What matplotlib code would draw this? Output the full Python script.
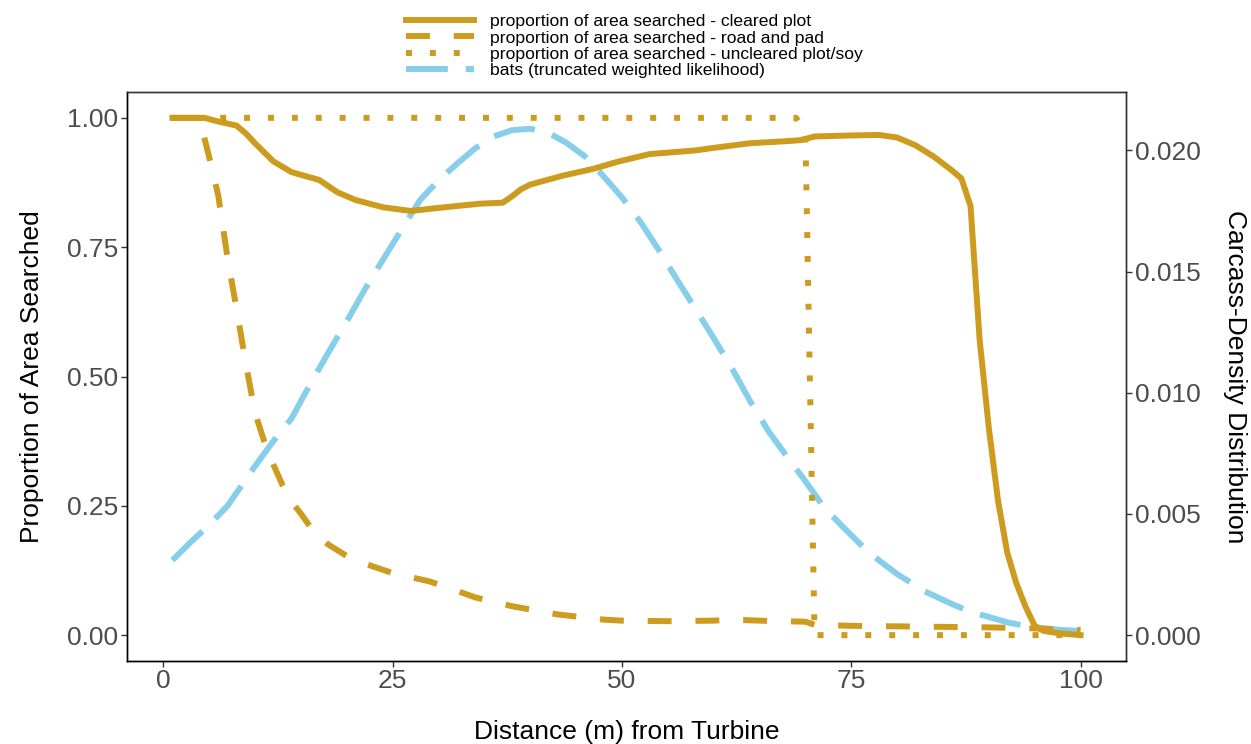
import matplotlib
matplotlib.use("Agg")
import matplotlib.pyplot as plt
from matplotlib.lines import Line2D

plt.rcParams['font.family'] = ['Liberation Sans', 'DejaVu Sans']

# ---------------- data ----------------
cleared_x = [1, 4.5, 6, 8, 9, 10, 12, 14, 15, 17, 19, 21, 24, 27, 30, 34.5, 37, 38, 39, 40,
             43.5, 47, 49.5, 53, 58, 60, 64, 68, 69.5, 71, 75, 78, 80, 82, 84, 86, 87, 88,
             89, 90, 91, 92, 93, 94, 95, 96, 98, 100]
cleared_y = [1.0, 1.0, 0.993, 0.985, 0.97, 0.951, 0.916, 0.895, 0.89, 0.88, 0.856, 0.841,
             0.827, 0.82, 0.826, 0.834, 0.836, 0.848, 0.862, 0.871, 0.888, 0.902, 0.915,
             0.93, 0.937, 0.942, 0.951, 0.955, 0.957, 0.964, 0.966, 0.967, 0.962, 0.947,
             0.925, 0.898, 0.883, 0.83, 0.57, 0.40, 0.26, 0.16, 0.10, 0.055, 0.018, 0.008,
             0.003, 0.0]

road_x = [1, 4, 4.5, 5, 6, 7, 8, 9, 10, 11, 12, 13, 14, 15, 16, 17, 18, 20, 22, 25, 29, 31,
          34, 38, 43, 48, 50, 55, 60, 62, 65, 70, 71, 75, 80, 85, 90, 95, 100]
road_y = [1.0, 1.0, 0.96, 0.925, 0.85, 0.73, 0.63, 0.525, 0.43, 0.375, 0.33, 0.29, 0.258,
          0.235, 0.21, 0.19, 0.175, 0.153, 0.138, 0.12, 0.104, 0.092, 0.073, 0.056, 0.04,
          0.03, 0.028, 0.027, 0.028, 0.03, 0.028, 0.026, 0.02, 0.018, 0.017, 0.016, 0.015,
          0.013, 0.01]

uncleared_x = [1, 69, 70, 71, 100]
uncleared_y = [1.0, 1.0, 0.97, 0.0, 0.0]

bats_x = [1, 3, 5, 7, 10, 12, 14, 16, 18, 20, 22, 24, 26, 28, 30, 32, 34, 36, 38, 40, 42,
          44, 46, 48, 50, 52, 54, 56, 58, 60, 62, 64, 66, 68, 70, 72, 74, 76, 78, 80, 83,
          86, 88, 90, 92, 94, 96, 98, 100]
bats_density = [0.00309, 0.00384, 0.00454, 0.00533, 0.00697, 0.00800, 0.00895, 0.01034,
                0.01166, 0.01294, 0.01428, 0.01552, 0.01674, 0.01795, 0.01876, 0.01944,
                0.02008, 0.02057, 0.02083, 0.02089, 0.02072, 0.02030, 0.01974, 0.01893,
                0.01806, 0.01706, 0.01590, 0.01467, 0.01347, 0.01226, 0.01100, 0.00964,
                0.00840, 0.00736, 0.00635, 0.00529, 0.00450, 0.00375, 0.00309, 0.00252,
                0.00181, 0.00128, 0.00096, 0.00075, 0.00053, 0.00038, 0.00028, 0.00021,
                0.00017]

x_ticks = [0, 25, 50, 75, 100]
y_ticks = [0.00, 0.25, 0.50, 0.75, 1.00]
y_ticklabels = ["0.00", "0.25", "0.50", "0.75", "1.00"]
y2_ticks = [0.000, 0.005, 0.010, 0.015, 0.020]
y2_ticklabels = ["0.000", "0.005", "0.010", "0.015", "0.020"]

labels = ["proportion of area searched - cleared plot",
          "proportion of area searched - road and pad",
          "proportion of area searched - uncleared plot/soy",
          "bats (truncated weighted likelihood)"]

# ---------------- style ----------------
GOLD = "#CD9B1D"
BLUE = "#87CEEB"
TICKCOL = "#4D4D4D"
SEC_SCALE = 0.02134
LW = 4.3

fig = plt.figure(figsize=(12.51, 7.44), dpi=100)
ax = fig.add_axes([127/1251, 1-661/744, (1126-127)/1251, (661-92)/744])
ax2 = ax.twinx()

ax.set_zorder(2)
ax2.set_zorder(1)
ax.patch.set_visible(False)

ax2.plot(bats_x, bats_density, color=BLUE, lw=LW, dashes=(7, 3), dash_capstyle='butt')
ax.plot(cleared_x, cleared_y, color=GOLD, lw=LW, solid_joinstyle='round')
ax.plot(road_x, road_y, color=GOLD, lw=LW, dashes=(4, 4), dash_capstyle='butt')
ax.plot(uncleared_x, uncleared_y, color=GOLD, lw=LW, dashes=(1, 3), dash_capstyle='butt')

ax.set_xlim(-3.95, 104.95)
ax.set_ylim(-0.05, 1.05)
ax2.set_ylim(-0.05 * SEC_SCALE, 1.05 * SEC_SCALE)

ax.set_xticks(x_ticks)
ax.set_yticks(y_ticks)
ax.set_yticklabels(y_ticklabels)
ax2.set_yticks(y2_ticks)
ax2.set_yticklabels(y2_ticklabels)

for a in (ax, ax2):
    a.tick_params(axis='both', labelsize=19, labelcolor=TICKCOL, color="#333333",
                  length=4.5, width=1, direction='out', pad=2)
    for s in a.spines.values():
        s.set_linewidth(1.0)
        s.set_color("#333333")
ax.tick_params(axis='x', pad=1.5)
for side in ("left", "bottom"):
    ax.spines[side].set_color("black")
    ax2.spines[side].set_color("black")

ax.set_xlabel("Distance (m) from Turbine", fontsize=19, color="black", labelpad=19)
ax.set_ylabel("Proportion of Area Searched", fontsize=19, color="black", labelpad=16)
ax2.set_ylabel("Carcass-Density Distribution", fontsize=19, color="black",
               rotation=270, labelpad=33)

handles = [Line2D([], [], color=GOLD, lw=LW),
           Line2D([], [], color=GOLD, lw=LW, dashes=(4, 4), dash_capstyle='butt'),
           Line2D([], [], color=GOLD, lw=LW, dashes=(1, 3), dash_capstyle='butt'),
           Line2D([], [], color=BLUE, lw=LW, dashes=(7, 3), dash_capstyle='butt')]
fig.legend(handles, labels, loc='upper center', bbox_to_anchor=(0.507, 1.0),
           frameon=False, fontsize=12.6, handlelength=3.9, handletextpad=0.9,
           labelspacing=0.06, borderpad=0.3)

fig.savefig("out.png", dpi=100, facecolor="white")
